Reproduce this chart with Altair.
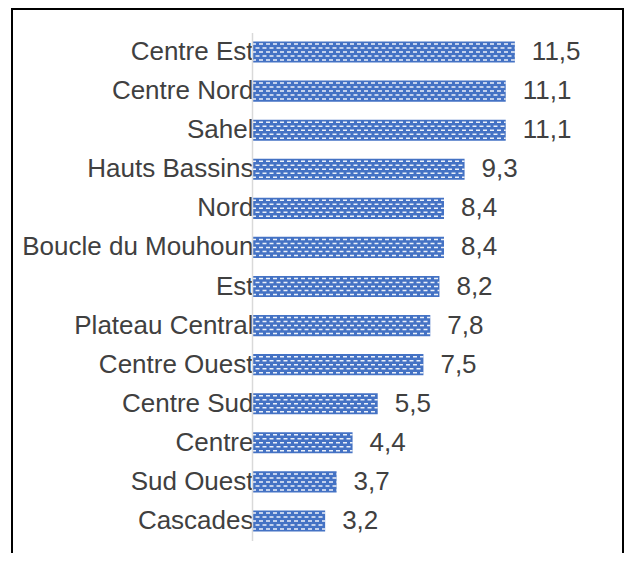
import altair as alt
import pandas as pd

regions = ["Centre Est", "Centre Nord", "Sahel", "Hauts Bassins", "Nord",
           "Boucle du Mouhoun", "Est", "Plateau Central", "Centre Ouest",
           "Centre Sud", "Centre", "Sud Ouest", "Cascades"]
values = [11.5, 11.1, 11.1, 9.3, 8.4, 8.4, 8.2, 7.8, 7.5, 5.5, 4.4, 3.7, 3.2]
labels = [f"{v:.1f}".replace(".", ",") for v in values]

df = pd.DataFrame({"region": regions, "value": values, "label": labels, "zero": [0] * len(values)})

FONT = "Liberation Sans"
BLUE = "#4472C4"

yenc = alt.Y("region:N", sort=regions,
             scale=alt.Scale(paddingInner=0.46, paddingOuter=0.23),
             axis=alt.Axis(title=None, labelFontSize=26, labelFont=FONT,
                           labelColor="#404040", ticks=False, labelLimit=0,
                           domainColor="#d9d9d9", domainWidth=1.5,
                           labelPadding=-1, zindex=1))
xscale = alt.Scale(domain=[0, 14])

base = alt.Chart(df)

bars = base.mark_bar(color=BLUE).encode(
    x=alt.X("value:Q", scale=xscale, axis=None),
    y=yenc,
)

layers = [bars]
for i, off in enumerate([-8, -4, 0, 4, 8]):
    layers.append(
        base.mark_rule(color="white", strokeWidth=1.5, strokeDash=[4, 3],
                       strokeDashOffset=(0 if i % 2 == 0 else 3.5), yOffset=off,
                       opacity=0.9).encode(
            x=alt.X("zero:Q", scale=xscale, axis=None),
            x2="value:Q",
            y=yenc,
        )
    )

text = base.mark_text(align="left", baseline="middle", dx=17, fontSize=26,
                      font=FONT, color="#404040").encode(
    x=alt.X("value:Q", scale=xscale, axis=None),
    y=yenc,
    text="label:N",
)
layers.append(text)

border = alt.Chart(pd.DataFrame({"a": [0]})).mark_rect(
    filled=False, stroke="black", strokeWidth=2).encode(
    x=alt.value(-240), x2=alt.value(371), y=alt.value(-23.5), y2=alt.value(600)
)
layers.append(border)

chart = alt.layer(*layers).properties(
    width=320, height=508,
    autosize=alt.AutoSizeParams(type="none"),
    padding={"left": 244, "top": 24.5, "right": 53, "bottom": 12.5},
    background="white",
).configure_view(stroke=None).configure_axisY(zindex=1)

chart.save("out.html", embed_options={"renderer": "svg", "actions": False})
